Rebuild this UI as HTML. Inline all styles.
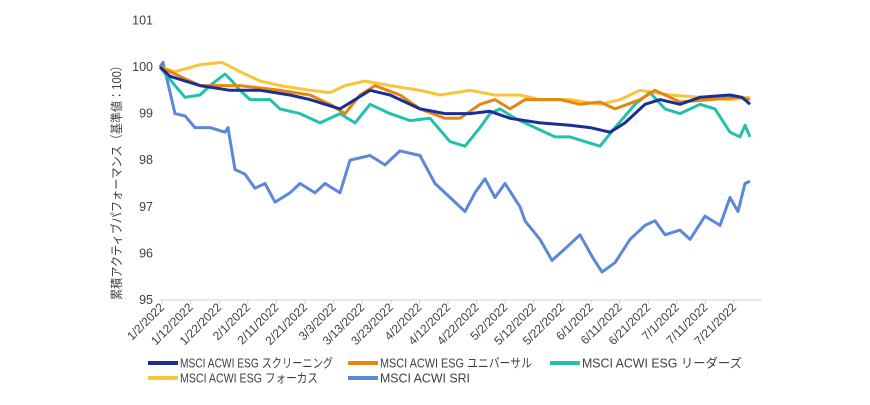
<!DOCTYPE html>
<html><head><meta charset="utf-8"><style>
body{margin:0;background:#fff;width:870px;height:400px;overflow:hidden;font-family:"Liberation Sans","Noto Sans CJK JP",sans-serif}
</style></head><body>
<svg id="s" width="870" height="400" xmlns="http://www.w3.org/2000/svg" font-family="Liberation Sans, Noto Sans CJK JP, sans-serif">
</svg>
<script>
const s=document.getElementById('s');
let h='';
const Y=v=>67+(100-v)*46.6;
for(let v=95;v<=101;v++){h+=`<text x="153" y="${Y(v)+4}" font-size="12.5" fill="#404040" text-anchor="end">${v}</text>`;}
h+=`<line x1="160" y1="300" x2="762" y2="300" stroke="#d0d0d0" stroke-width="1"/>`;
for(let i=0;i<21;i++){const x=162+i*28.6;h+=`<line x1="${x}" y1="300" x2="${x}" y2="304" stroke="#d0d0d0"/>`;}
const d=["1/2/2022","1/12/2022","1/22/2022","2/1/2022","2/11/2022","2/21/2022","3/3/2022","3/13/2022","3/23/2022","4/2/2022","4/12/2022","4/22/2022","5/2/2022","5/12/2022","5/22/2022","6/1/2022","6/11/2022","6/21/2022","7/1/2022","7/11/2022","7/21/2022"];
d.forEach((t,i)=>{const x=165+i*28.6;
h+=`<text transform="translate(${x},${308}) rotate(-45)" font-size="12" fill="#404040" text-anchor="end">${t}</text>`;});
h+=`<text transform="translate(121,180) rotate(-90)" font-size="12.5" fill="#404040" text-anchor="middle" textLength="240" lengthAdjust="spacingAndGlyphs">累積アクティブパフォーマンス（基準値：100）</text>`;
const S={
yellow:["#f8c53a",[[160,100],[175,99.9],[200,100.05],[222,100.1],[240,99.9],[260,99.7],[280,99.6],[310,99.5],[330,99.45],[345,99.6],[365,99.7],[390,99.6],[420,99.5],[440,99.4],[470,99.5],[495,99.4],[520,99.4],[540,99.3],[570,99.3],[600,99.2],[620,99.3],[640,99.5],[670,99.4],[700,99.35],[730,99.3],[750,99.35]]],
teal:["#22c1ad",[[160,100],[175,99.6],[185,99.35],[200,99.4],[210,99.6],[225,99.85],[232,99.7],[240,99.5],[250,99.3],[270,99.3],[280,99.1],[300,99.0],[320,98.8],[340,99.0],[355,98.8],[370,99.2],[390,99.0],[410,98.85],[430,98.9],[450,98.4],[465,98.3],[480,98.7],[490,99.0],[500,99.1],[515,98.9],[535,98.7],[555,98.5],[570,98.5],[585,98.4],[600,98.3],[615,98.7],[635,99.2],[650,99.45],[665,99.1],[680,99.0],[700,99.2],[715,99.1],[730,98.6],[740,98.5],[745,98.75],[750,98.5]]],
orange:["#e8850f",[[160,100],[180,99.8],[200,99.6],[240,99.6],[280,99.5],[310,99.4],[330,99.2],[345,99.0],[360,99.4],[375,99.6],[400,99.4],[420,99.1],[445,98.9],[460,98.9],[480,99.2],[495,99.3],[510,99.1],[525,99.3],[560,99.3],[580,99.2],[600,99.25],[615,99.1],[640,99.3],[655,99.5],[680,99.25],[710,99.3],[740,99.35],[750,99.3]]],
navy:["#1b2d96",[[160,100],[170,99.8],[200,99.6],[230,99.5],[260,99.5],[290,99.4],[310,99.3],[340,99.1],[355,99.3],[370,99.5],[390,99.4],[420,99.1],[445,99.0],[470,99.0],[490,99.05],[510,98.9],[540,98.8],[570,98.75],[590,98.7],[610,98.6],[625,98.8],[645,99.2],[660,99.3],[680,99.2],[700,99.35],[730,99.4],[742,99.35],[750,99.2]]],
sri:["#5b88d8",[[160,100],[163,100.1],[175,99],[185,98.95],[195,98.7],[210,98.7],[225,98.6],[228,98.7],[235,97.8],[245,97.7],[255,97.4],[265,97.5],[275,97.1],[290,97.3],[300,97.5],[315,97.3],[325,97.5],[340,97.3],[350,98.0],[370,98.1],[385,97.9],[400,98.2],[420,98.1],[435,97.5],[455,97.1],[465,96.9],[475,97.3],[485,97.6],[495,97.2],[505,97.5],[520,97.0],[525,96.7],[540,96.3],[552,95.85],[565,96.1],[580,96.4],[593,95.9],[602,95.6],[615,95.8],[630,96.3],[645,96.6],[655,96.7],[665,96.4],[680,96.5],[690,96.3],[705,96.8],[720,96.6],[730,97.2],[738,96.9],[745,97.5],[750,97.55]]]};
for(const k of ["sri","yellow","teal","orange","navy"]){const [c,p]=S[k];
h+=`<polyline fill="none" stroke="${c}" stroke-width="3" stroke-linejoin="round" points="${p.map(q=>q[0]+','+Y(q[1]).toFixed(1)).join(' ')}"/>`;}
const L=[[148,363,"navy","MSCI ACWI ESG スクリーニング",153],[348,363,"orange","MSCI ACWI ESG ユニバーサル",152],[550,363,"teal","MSCI ACWI ESG リーダーズ",160],[148,378,"yellow","MSCI ACWI ESG フォーカス",138],[348,378,"sri","MSCI ACWI SRI",90]];
L.forEach(([x,y,k,t,w])=>{h+=`<line x1="${x}" y1="${y}" x2="${x+30}" y2="${y}" stroke="${S[k][0]}" stroke-width="4"/><text x="${x+32}" y="${y+4.5}" font-size="12.5" fill="#404040" textLength="${w}" lengthAdjust="spacingAndGlyphs">${t}</text>`;});
s.innerHTML=h;
</script>
</body></html>
